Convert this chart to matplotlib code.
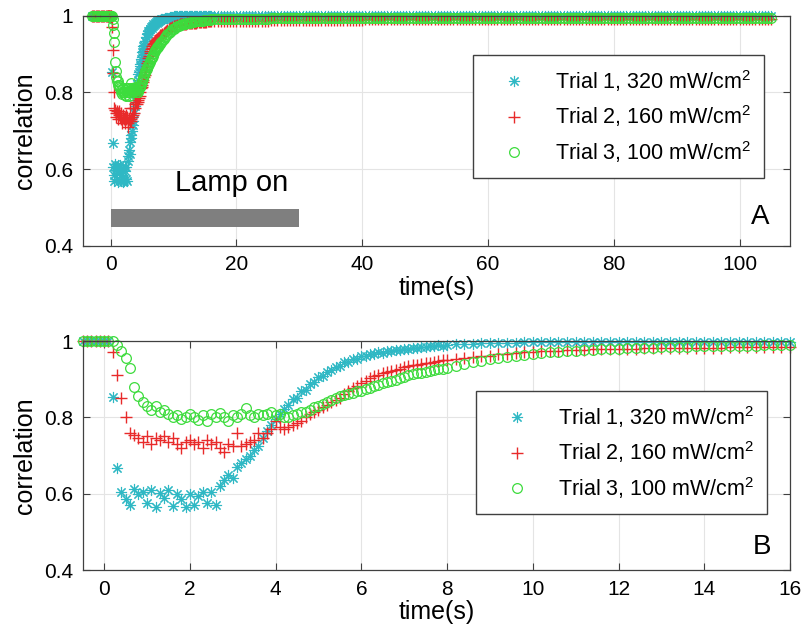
import numpy as np
import matplotlib
matplotlib.use('Agg')
import matplotlib.pyplot as plt

plt.rcParams['font.family'] = ['Liberation Sans', 'DejaVu Sans']
plt.rcParams['mathtext.default'] = 'regular'

# sample times (s)
t_pre = np.round(np.arange(-3.0, -0.55, 0.2), 1)
t_fast = np.round(np.arange(-0.5, 7.95, 0.1), 1)
t_slow = np.round(np.arange(8.0, 16.05, 0.2), 1)
t_tail = np.round(np.arange(16.5, 105.05, 0.5), 1)

labels = ['Trial 1, 320 mW/cm$^2$', 'Trial 2, 160 mW/cm$^2$', 'Trial 3, 100 mW/cm$^2$']

pre = [1.0] * len(t_pre)

trial1_fast = [1.0] * 7 + [
    0.854, 0.667, 0.605, 0.585, 0.57, 0.612, 0.598, 0.605, 0.575, 0.61,
    0.565, 0.603, 0.59, 0.61, 0.568, 0.60, 0.585, 0.565, 0.60, 0.57,
    0.595, 0.605, 0.575, 0.605, 0.57, 0.62, 0.635, 0.65, 0.64, 0.67,
    0.68, 0.69, 0.70, 0.715, 0.725, 0.745, 0.765, 0.78, 0.795, 0.81,
    0.822, 0.833, 0.848, 0.852, 0.868, 0.873, 0.888, 0.893, 0.905, 0.908,
    0.92, 0.923, 0.933, 0.935, 0.944, 0.945, 0.952, 0.954, 0.96, 0.96,
    0.966, 0.965, 0.97, 0.969, 0.974, 0.973, 0.977, 0.976, 0.98, 0.979,
    0.983, 0.982, 0.985, 0.984, 0.987, 0.986, 0.989, 0.988]
trial2_fast = [1.0] * 7 + [
    0.97, 0.91, 0.85, 0.80, 0.76, 0.755, 0.745, 0.735, 0.75, 0.73,
    0.745, 0.74, 0.75, 0.735, 0.745, 0.73, 0.72, 0.735, 0.74, 0.73,
    0.735, 0.72, 0.74, 0.73, 0.735, 0.72, 0.71, 0.73, 0.725, 0.758,
    0.725, 0.73, 0.735, 0.74, 0.76, 0.745, 0.76, 0.77, 0.79, 0.775,
    0.77, 0.776, 0.78, 0.785, 0.79, 0.80, 0.81, 0.815, 0.82, 0.826,
    0.833, 0.84, 0.846, 0.852, 0.86, 0.868, 0.876, 0.883, 0.89, 0.896,
    0.902, 0.908, 0.912, 0.916, 0.92, 0.922, 0.925, 0.928, 0.931, 0.934,
    0.936, 0.938, 0.94, 0.942, 0.943, 0.945, 0.947, 0.949]
trial3_fast = [1.0] * 7 + [
    1.0, 0.99, 0.975, 0.955, 0.93, 0.88, 0.855, 0.84, 0.83, 0.82,
    0.83, 0.815, 0.82, 0.81, 0.80, 0.805, 0.795, 0.80, 0.81, 0.80,
    0.793, 0.805, 0.79, 0.81, 0.80, 0.812, 0.80, 0.79, 0.805, 0.80,
    0.81, 0.824, 0.805, 0.80, 0.81, 0.805, 0.81, 0.815, 0.805, 0.81,
    0.80, 0.80, 0.805, 0.81, 0.813, 0.815, 0.82, 0.826, 0.83, 0.836,
    0.84, 0.845, 0.85, 0.855, 0.858, 0.862, 0.865, 0.868, 0.87, 0.874,
    0.878, 0.882, 0.886, 0.89, 0.893, 0.896, 0.899, 0.903, 0.907, 0.91,
    0.913, 0.915, 0.917, 0.919, 0.921, 0.923, 0.926, 0.928]

trial1_slow = [0.99, 0.991, 0.992, 0.993, 0.994, 0.995, 0.995, 0.996, 0.996, 0.997] + [0.998] * 31
trial2_slow = [
    0.95, 0.952, 0.955, 0.958, 0.96, 0.962, 0.965, 0.967, 0.969, 0.971,
    0.972, 0.973, 0.974, 0.975, 0.976, 0.977, 0.977, 0.978, 0.978, 0.979,
    0.979, 0.98, 0.98, 0.981, 0.981, 0.981, 0.982, 0.982, 0.982, 0.983,
    0.983, 0.983, 0.983, 0.984, 0.984, 0.984, 0.984, 0.985, 0.985, 0.985,
    0.985]
trial3_slow = [
    0.93, 0.935, 0.94, 0.944, 0.948, 0.952, 0.955, 0.958, 0.961, 0.964,
    0.966, 0.968, 0.97, 0.972, 0.973, 0.975, 0.976, 0.977, 0.978, 0.979,
    0.98, 0.981, 0.982, 0.982, 0.983, 0.984, 0.984, 0.985, 0.985, 0.986,
    0.986, 0.987, 0.987, 0.987, 0.988, 0.988, 0.988, 0.989, 0.989, 0.989,
    0.99]

trial1_tail = [0.998] * 178
trial2_tail = [0.986] * 18 + [0.988] * 30 + [0.99] * 130
trial3_tail = [0.99] * 18 + [0.993] * 30 + [0.995] * 130

lamp_start, lamp_end = 0, 30

colors = ['#2fb8c4', '#e82a2a', '#3ddc3d']
# asterisk, plus, open circle
styles = [dict(marker=(8, 2, 0), ms=8, mew=0.8),
          dict(marker='+', ms=8, mew=1.0),
          dict(marker='o', ms=7, mew=0.9, mfc='none')]

t_all = np.concatenate([t_pre, t_fast, t_slow, t_tail])
t_zoom = np.concatenate([t_fast, t_slow])
series_all = [pre + trial1_fast + trial1_slow + trial1_tail,
              pre + trial2_fast + trial2_slow + trial2_tail,
              pre + trial3_fast + trial3_slow + trial3_tail]
series_zoom = [trial1_fast + trial1_slow,
               trial2_fast + trial2_slow,
               trial3_fast + trial3_slow]

fig = plt.figure(figsize=(8.06, 6.34), dpi=100)
ax1 = fig.add_axes([0.1026, 0.6125, 0.8775, 0.3628])
ax2 = fig.add_axes([0.1026, 0.1009, 0.8775, 0.3612])


def style_axes(ax, xticks, xlim):
    ax.set_xlim(*xlim)
    ax.set_ylim(0.4, 1.0)
    ax.set_xticks(xticks)
    ax.set_yticks([0.4, 0.6, 0.8, 1.0])
    ax.set_yticklabels(['0.4', '0.6', '0.8', '1'])
    ax.grid(True, color='#e4e4e4', lw=0.8)
    ax.set_axisbelow(True)
    ax.tick_params(direction='in', top=True, right=True, length=5, width=0.8,
                   color='#404040', labelsize=15, pad=7)
    for sp in ax.spines.values():
        sp.set_color('#404040')
        sp.set_linewidth(0.9)
    ax.set_xlabel('time(s)', fontsize=18, labelpad=1)
    ax.set_ylabel('correlation', fontsize=18, labelpad=5)


for ax, t, data in [(ax1, t_all, series_all), (ax2, t_zoom, series_zoom)]:
    for y, c, st, lab in zip(data, colors, styles, labels):
        ax.plot(t, y, ls='none', color=c, label=lab, clip_on=False, **st)
    ax.legend(loc='upper right', numpoints=1, fontsize=15.5, frameon=True,
              fancybox=False, edgecolor='#404040', framealpha=1,
              borderpad=0.6, handlelength=2.6, handletextpad=0.6,
              labelspacing=0.45, borderaxespad=0,
              bbox_to_anchor=(0.9632, 0.829) if ax is ax1 else (0.9675, 0.7817))

style_axes(ax1, [0, 20, 40, 60, 80, 100], (-4.45, 108))
style_axes(ax2, list(range(0, 17, 2)), (-0.5, 16))

ax1.barh(0.4725, lamp_end - lamp_start, left=lamp_start, height=0.045,
         color='#7f7f7f', zorder=3)
ax1.text(19.2, 0.564, 'Lamp on', fontsize=21, ha='center', va='center')
ax1.text(0.9586, 0.126, 'A', transform=ax1.transAxes, fontsize=20,
         ha='center', va='center')
ax2.text(0.96, 0.102, 'B', transform=ax2.transAxes, fontsize=20,
         ha='center', va='center')

fig.savefig('out.png', dpi=100)
